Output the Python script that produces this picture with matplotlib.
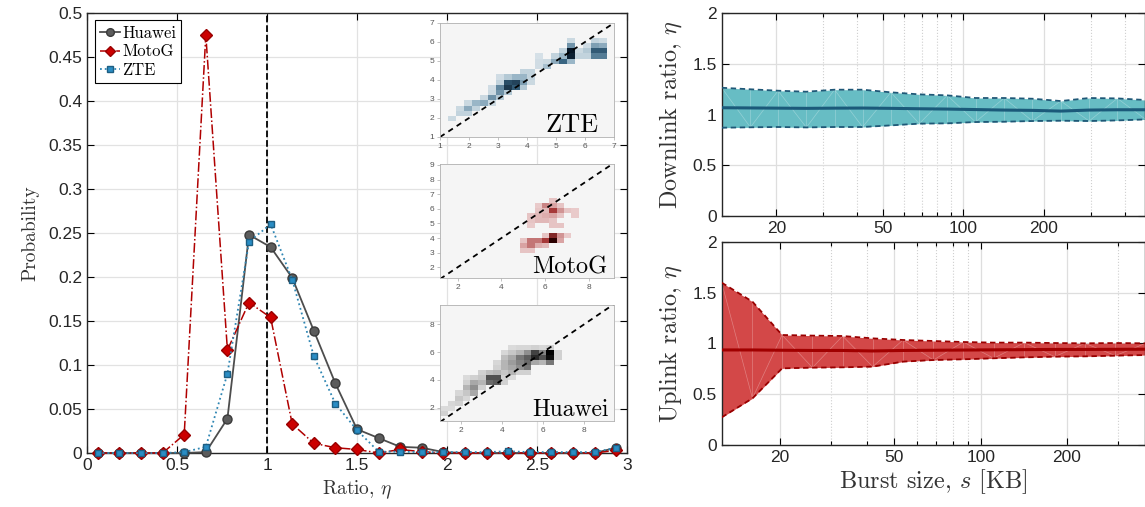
import numpy as np
import matplotlib
matplotlib.use('Agg')
import matplotlib.pyplot as plt
from matplotlib.colors import LinearSegmentedColormap
from matplotlib.ticker import FixedLocator, FixedFormatter, NullFormatter

plt.rcParams['font.family'] = ['Liberation Sans', 'DejaVu Sans']
plt.rcParams['mathtext.fontset'] = 'cm'
SERIF = 'cmr10'

# ---- left panel: distribution of the ratio ----
ratio = [0.06, 0.18, 0.30, 0.42, 0.54, 0.66, 0.78, 0.90, 1.02, 1.14, 1.26, 1.38, 1.50,
         1.62, 1.74, 1.86, 1.98, 2.10, 2.22, 2.34, 2.46, 2.58, 2.70, 2.82, 2.94]
huawei = [0, 0, 0, 0, 0, 0.001, 0.039, 0.248, 0.234, 0.199, 0.139, 0.079, 0.027,
          0.017, 0.007, 0.006, 0.001, 0, 0, 0, 0, 0, 0, 0, 0.006]
motog = [0, 0, 0, 0, 0.021, 0.475, 0.117, 0.171, 0.154, 0.033, 0.011, 0.006, 0.004,
         0.0, 0.004, 0.0015, 0, 0, 0, 0, 0, 0, 0, 0, 0.003]
zte = [0, 0, 0, 0, 0.001, 0.007, 0.090, 0.240, 0.260, 0.197, 0.110, 0.056, 0.026,
       0.0015, 0.0015, 0.001, 0.001, 0.001, 0.001, 0.002, 0.001, 0.001, 0.001, 0.001, 0.006]

# ---- insets: 2D histogram cells (col, row, intensity) ----
zte_cells = [
    (1, 3, .12),
    (2, 4, .15), (3, 4, .15),
    (2, 5, .12), (3, 5, .35), (4, 5, .15),
    (3, 6, .12), (4, 6, .30), (5, 6, .35), (6, 6, .12),
    (5, 7, .12), (6, 7, .45), (7, 7, .20),
    (6, 8, .12), (7, 8, .45), (8, 8, .20),
    (6, 9, .10), (7, 9, .50), (8, 9, .85), (9, 9, .70), (10, 9, .20),
    (7, 10, .15), (8, 10, .75), (9, 10, .80), (10, 10, .40), (11, 10, .12),
    (7, 11, .10), (8, 11, .20), (9, 11, .30), (10, 11, .30), (11, 11, .15),
    (10, 12, .15), (11, 12, .15),
    (12, 13, .10), (13, 13, .25),
    (12, 14, .10), (13, 14, .12), (14, 14, .35), (15, 14, .65), (16, 14, .30),
    (12, 15, .08), (14, 15, .15), (15, 15, .30), (16, 15, .95), (17, 15, .15),
    (18, 15, .15), (19, 15, .55), (20, 15, .55),
    (15, 16, .15), (16, 16, 1.0), (17, 16, .12), (18, 16, .20), (19, 16, .70), (20, 16, .70),
    (16, 17, .45), (18, 17, .10), (19, 17, .40), (20, 17, .35),
    (16, 18, .12), (19, 18, .15), (20, 18, .12),
]
motog_cells = [
    (15, 15, .15),
    (13, 14, .12), (14, 14, .40), (15, 14, .30), (16, 14, .15),
    (13, 13, .15), (14, 13, .20), (15, 13, .65), (16, 13, .35), (17, 13, .15), (18, 13, .12),
    (12, 12, .15), (13, 12, .20), (14, 12, .25), (15, 12, .30), (16, 12, .15), (18, 12, .12),
    (12, 11, .15), (13, 11, .20), (14, 11, .20), (15, 11, .15),
    (12, 10, .12), (15, 10, .15), (16, 10, .15),
    (14, 8, .15), (15, 8, .75), (16, 8, .35), (17, 8, .12),
    (11, 7, .15), (12, 7, .45), (13, 7, .45), (14, 7, .65), (15, 7, 1.0), (16, 7, .30),
    (11, 6, .30), (12, 6, .45), (13, 6, .25), (14, 6, .20),
    (11, 5, .15), (12, 5, .15),
]
huawei_cells = [
    (0, 1, .15),
    (0, 2, .10), (1, 2, .10),
    (1, 3, .12), (2, 3, .15),
    (2, 4, .20), (3, 4, .12),
    (2, 5, .12), (3, 5, .20), (4, 5, .35),
    (3, 6, .30), (4, 6, .45), (5, 6, .15),
    (3, 7, .15), (4, 7, .35), (5, 7, .30), (6, 7, .60), (7, 7, .65), (8, 7, .15),
    (3, 8, .10), (4, 8, .15), (5, 8, .20), (6, 8, .70), (7, 8, .70), (8, 8, .15), (9, 8, .10),
    (5, 9, .15), (6, 9, .25), (7, 9, .30), (8, 9, .20), (9, 9, .30), (10, 9, .15), (11, 9, .15),
    (7, 10, .15), (8, 10, .30), (9, 10, .35), (10, 10, .45), (11, 10, .55),
    (7, 11, .12), (8, 11, .30), (9, 11, .40), (10, 11, .50), (11, 11, .60), (12, 11, .35),
    (13, 11, .30), (14, 11, .55),
    (8, 12, .25), (9, 12, .35), (10, 12, .55), (11, 12, .65), (12, 12, .85), (13, 12, .70),
    (14, 12, .95), (15, 12, .15),
    (8, 13, .12), (9, 13, .20), (10, 13, .30), (11, 13, .45), (12, 13, .75), (13, 13, .50),
    (14, 13, 1.0), (15, 13, .15),
    (9, 14, .10), (10, 14, .12), (11, 14, .12), (12, 14, .15), (13, 14, .12), (14, 14, .15),
]

# ---- right panels: burst size vs ratio ----
burst = [12.5, 16, 20.3, 25.9, 33, 42, 53.6, 68.4, 87, 111, 142, 181, 231, 295, 376, 480]
dl_high = [1.265, 1.25, 1.236, 1.226, 1.246, 1.246, 1.22, 1.20, 1.19, 1.164, 1.164, 1.157,
           1.134, 1.164, 1.16, 1.144]
dl_mean = [1.068, 1.066, 1.064, 1.062, 1.064, 1.065, 1.062, 1.058, 1.055, 1.05, 1.045, 1.042,
           1.035, 1.045, 1.048, 1.048]
dl_low = [0.871, 0.875, 0.878, 0.874, 0.878, 0.878, 0.894, 0.911, 0.914, 0.927, 0.930, 0.937,
          0.940, 0.937, 0.943, 0.953]
ul_high = [1.597, 1.41, 1.082, 1.076, 1.072, 1.049, 1.033, 1.023, 1.013, 1.007, 1.007, 1.003,
           1.0, 1.003, 1.0]
ul_mean = [0.935, 0.935, 0.932, 0.93, 0.93, 0.925, 0.93, 0.932, 0.934, 0.936, 0.938, 0.94,
           0.94, 0.941, 0.942]
ul_low = [0.272, 0.459, 0.754, 0.761, 0.764, 0.771, 0.820, 0.836, 0.843, 0.853, 0.862, 0.869,
          0.872, 0.879, 0.885]

fig = plt.figure(figsize=(11.45, 5.07), dpi=100)

# ================= left panel =================
ax = fig.add_axes([0.076, 0.1065, 0.4716, 0.8679])
ax.plot(ratio, huawei, '-o', color='#4d4d4d', mfc='#5c5c5c', mec='#3a3a3a', ms=6.5,
        lw=1.3, label='Huawei', clip_on=False, zorder=3)
ax.plot(ratio, motog, '-.D', color='#b00000', mfc='#cc0000', mec='#990000', ms=5.8,
        lw=1.1, label='MotoG', clip_on=False, zorder=4)
ax.plot(ratio, zte, ':s', color='#2f86b3', mfc='#2a8dc4', mec='#1d5e82', ms=5,
        lw=1.3, label='ZTE', clip_on=False, zorder=5)
ax.axvline(1, color='black', ls='--', lw=1.3, zorder=2)
ax.set_xlim(0, 3)
ax.set_ylim(0, 0.5)
ax.set_xticks([0, 0.5, 1, 1.5, 2, 2.5, 3])
ax.set_xticklabels(['0', '0.5', '1', '1.5', '2', '2.5', '3'])
yt = [0, 0.05, 0.1, 0.15, 0.2, 0.25, 0.3, 0.35, 0.4, 0.45, 0.5]
ax.set_yticks(yt)
ax.set_yticklabels(['%g' % v for v in yt])
ax.grid(True, color='#e2e2e2', lw=0.9)
ax.set_axisbelow(True)
ax.tick_params(direction='in', top=True, right=True, length=5, width=0.8,
               labelsize=12.5, labelcolor='#262626')
for s in ax.spines.values():
    s.set_color('#262626')
    s.set_linewidth(1.0)
ax.set_xlabel(r'Ratio, $\eta$', fontfamily=SERIF, fontsize=14, color='#333333', labelpad=4)
ax.set_ylabel('Probability', fontfamily=SERIF, fontsize=14, color='#333333', labelpad=6)
leg = ax.legend(loc='upper left', prop={'family': SERIF, 'size': 12}, fancybox=False,
                edgecolor='black', framealpha=1, borderpad=0.3, labelspacing=0.2,
                handlelength=1.2, handletextpad=0.15, borderaxespad=0.45, markerscale=0.85)
leg.get_frame().set_linewidth(0.8)


def draw_inset(rect, cells, shape, extent, colors, xticks, yticks, name, size, tx):
    ia = fig.add_axes(rect)
    grid = np.zeros(shape)
    for c, r, v in cells:
        grid[r, c] = v
    cmap = LinearSegmentedColormap.from_list(name, colors)
    ia.imshow(grid, extent=extent, origin='lower', cmap=cmap, vmin=0, vmax=1,
              aspect='auto', interpolation='nearest')
    lo = min(extent[0], extent[2])
    hi = max(extent[1], extent[3])
    ia.plot([lo, hi], [lo, hi], color='black', ls='--', lw=1.3, dashes=(3, 2.5))
    ia.set_xlim(extent[0], extent[1])
    ia.set_ylim(extent[2], extent[3])
    ia.set_xticks(xticks)
    ia.set_yticks(yticks)
    ia.tick_params(labelsize=6, labelcolor='#555555', length=2, width=0.5,
                   color='#aaaaaa', pad=2)
    for s in ia.spines.values():
        s.set_color('#b0b0b0')
        s.set_linewidth(0.6)
    ia.text(tx, 0.04, name, transform=ia.transAxes, ha='right', va='baseline',
            fontfamily=SERIF, fontsize=size, color='black')


draw_inset([0.3843, 0.7298, 0.1520, 0.2249], zte_cells, (22, 22), (1, 7, 1, 7),
           [(0, '#f5f5f5'), (0.04, '#e0e8ed'), (0.3, '#9ab6c7'), (0.65, '#3a6683'),
            (1, '#061626')],
           [1, 2, 3, 4, 5, 6, 7], [1, 2, 3, 4, 5, 6, 7], 'ZTE', 19, 0.91)
draw_inset([0.3843, 0.4517, 0.1520, 0.2249], motog_cells, (23, 24), (1.2, 9.14, 1.27, 9.07),
           [(0, '#f5f5f5'), (0.04, '#f0dcdc'), (0.3, '#d9a3a3'), (0.65, '#a73a3a'),
            (1, '#2a0000')],
           [2, 4, 6, 8], [2, 3, 4, 5, 6, 7, 8, 9], 'MotoG', 17.5, 0.96)
draw_inset([0.3843, 0.1696, 0.1520, 0.2288], huawei_cells, (23, 23), (0.97, 9.46, 1.04, 9.39),
           [(0, '#f5f5f5'), (0.04, '#e6e6e6'), (0.3, '#b5b5b5'), (0.65, '#5e5e5e'),
            (1, '#000000')],
           [2, 4, 6, 8], [2, 4, 6, 8], 'Huawei', 17, 0.97)


# ================= right panels =================
def draw_band(a, x, lo, mid, hi, fill, edge, line, xmax, label):
    a.fill_between(x, lo, hi, color=fill, lw=0, zorder=2)
    for i in range(len(x) - 1):
        a.plot([x[i], x[i]], [lo[i], hi[i]], color='white', lw=0.5, alpha=0.3, zorder=2.1)
        if i % 2:
            a.plot([x[i], x[i + 1]], [lo[i], hi[i + 1]], color='white', lw=0.5, alpha=0.3, zorder=2.1)
        else:
            a.plot([x[i], x[i + 1]], [hi[i], lo[i + 1]], color='white', lw=0.5, alpha=0.3, zorder=2.1)
    a.plot(x, hi, color=edge, lw=1.3, dashes=(3, 2), zorder=3)
    a.plot(x, lo, color=edge, lw=1.3, dashes=(3, 2), zorder=3)
    a.plot(x, mid, color=line, lw=2.2, zorder=4)
    a.set_xscale('log')
    a.set_xlim(12.5, xmax)
    a.set_ylim(0, 2)
    a.xaxis.set_major_locator(FixedLocator([20, 50, 100, 200]))
    a.xaxis.set_major_formatter(FixedFormatter(['20', '50', '100', '200']))
    a.xaxis.set_minor_locator(FixedLocator([30, 40, 60, 70, 80, 90, 300, 400]))
    a.xaxis.set_minor_formatter(NullFormatter())
    a.set_yticks([0, 0.5, 1, 1.5, 2])
    a.set_yticklabels(['0', '0.5', '1', '1.5', '2'])
    a.grid(True, which='major', color='#dedede', lw=0.9)
    a.grid(True, which='minor', axis='x', color='#cfcfcf', ls=':', lw=0.8)
    a.set_axisbelow(True)
    a.tick_params(which='both', direction='in', top=True, right=True, width=0.8,
                  labelsize=12.5, labelcolor='#262626')
    a.tick_params(which='major', length=5)
    a.tick_params(which='minor', length=3)
    for s in a.spines.values():
        s.set_color('#262626')
        s.set_linewidth(1.0)
    a.set_ylabel(label, fontfamily=SERIF, fontsize=17.5, color='#333333', labelpad=6)


axd = fig.add_axes([0.6303, 0.574, 0.3697, 0.3998])
draw_band(axd, burst, dl_low, dl_mean, dl_high, '#67bdc4', '#1f5877', '#1b5a7a', 477,
          r'Downlink ratio, $\eta$')

axu = fig.add_axes([0.6303, 0.1223, 0.3697, 0.401])
draw_band(axu, burst[:len(ul_mean)], ul_low, ul_mean, ul_high, '#d34848', '#990000', '#a00000',
          374, r'Uplink ratio, $\eta$')
axu.set_xlabel(r'Burst size, $s$ [KB]', fontfamily=SERIF, fontsize=17.5, color='#333333',
               labelpad=2)

fig.savefig('out.png', dpi=100)
